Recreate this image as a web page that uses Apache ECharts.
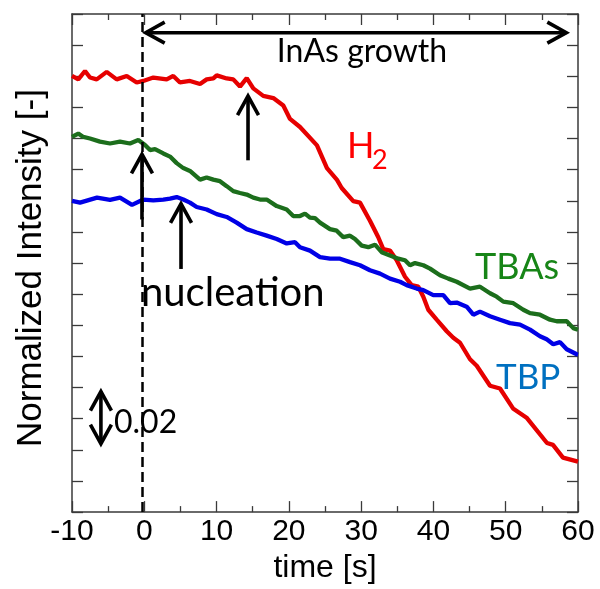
<!DOCTYPE html>
<html>
<head>
<meta charset="utf-8">
<script src="https://cdn.jsdelivr.net/npm/echarts@6/dist/echarts.min.js"></script>
<style>
html,body{margin:0;padding:0;background:#fff;}
#chart{width:600px;height:589px;}
</style>
</head>
<body>
<div id="chart"></div>
<script>
// ---- data (time [s], normalized intensity offset) ----
const h2 = [
  [-10.00,0.1401],[-9.13,0.1390],[-8.20,0.1417],[-7.51,0.1396],[-6.58,0.1390],[-5.20,0.1414],
  [-3.82,0.1390],[-2.43,0.1401],[-1.05,0.1380],[-0.14,0.1385],[1.25,0.1396],[3.10,0.1390],
  [4.01,0.1401],[4.94,0.1380],[6.32,0.1385],[7.71,0.1375],[8.63,0.1390],[9.55,0.1393],
  [10.02,0.1403],[11.40,0.1393],[12.31,0.1390],[13.24,0.1367],[14.17,0.1394],[15.08,0.1361],
  [16.46,0.1337],[17.85,0.1330],[19.23,0.1306],[20.16,0.1263],[21.54,0.1237],[23.89,0.1178],
  [25.27,0.1105],[26.66,0.1067],[27.31,0.1041],[28.91,0.0999],[29.84,0.0994],[31.22,0.0936],
  [32.37,0.0883],[33.06,0.0845],[33.99,0.0840],[34.92,0.0809],[36.07,0.0756],[36.99,0.0729],
  [37.91,0.0724],[38.60,0.0692],[39.29,0.0650],[40.45,0.0618],[41.84,0.0581],[42.75,0.0560],
  [43.68,0.0544],[45.06,0.0491],[45.99,0.0470],[47.83,0.0406],[49.21,0.0397],[51.01,0.0333],
  [52.94,0.0302],[55.71,0.0222],[56.54,0.0216],[57.92,0.0175],[60.00,0.0162]
];
const tbas = [
  [-10.00,0.1205],[-9.13,0.1216],[-8.44,0.1205],[-7.51,0.1200],[-6.13,0.1190],[-4.74,0.1184],
  [-3.36,0.1190],[-1.98,0.1184],[-0.83,0.1195],[0.10,0.1179],[0.79,0.1163],[1.48,0.1166],
  [2.63,0.1152],[3.56,0.1142],[4.48,0.1121],[5.40,0.1105],[6.32,0.1096],[7.71,0.1068],
  [8.63,0.1075],[9.55,0.1068],[10.47,0.1063],[11.40,0.1047],[12.31,0.1031],[13.24,0.1025],
  [14.17,0.1020],[15.08,0.1010],[16.01,0.1004],[16.93,0.1004],[18.32,0.0983],[19.70,0.0972],
  [20.61,0.0951],[21.54,0.0951],[22.23,0.0959],[22.92,0.0946],[23.62,0.0944],[24.31,0.0930],
  [25.69,0.0909],[26.62,0.0904],[27.53,0.0883],[28.46,0.0888],[29.15,0.0877],[30.08,0.0856],
  [30.99,0.0851],[31.92,0.0859],[32.84,0.0835],[33.99,0.0824],[35.14,0.0814],[36.07,0.0809],
  [36.76,0.0793],[37.45,0.0800],[38.60,0.0793],[39.53,0.0782],[40.91,0.0761],[42.06,0.0750],
  [43.22,0.0740],[45.06,0.0718],[46.44,0.0724],[47.83,0.0703],[48.75,0.0692],[49.67,0.0676],
  [51.05,0.0671],[52.43,0.0650],[53.36,0.0639],[54.74,0.0634],[56.13,0.0618],[57.05,0.0613],
  [58.44,0.0613],[59.35,0.0591],[60.00,0.0586]
];
const tbp = [
  [-10.00,0.1000],[-8.89,0.0994],[-6.54,0.1010],[-4.74,0.1003],[-3.36,0.1010],[-1.70,0.0987],
  [-0.14,0.1004],[1.25,0.1001],[2.63,0.1004],[3.56,0.1007],[4.48,0.1012],[5.40,0.1004],
  [6.32,0.0994],[7.25,0.0980],[8.63,0.0972],[10.02,0.0957],[11.40,0.0948],[12.78,0.0930],
  [14.17,0.0909],[15.55,0.0898],[16.93,0.0888],[18.32,0.0877],[19.70,0.0863],[20.85,0.0867],
  [21.54,0.0851],[22.92,0.0840],[24.31,0.0819],[25.69,0.0814],[27.08,0.0814],[28.46,0.0803],
  [29.84,0.0793],[31.22,0.0777],[32.61,0.0766],[33.99,0.0750],[35.38,0.0740],[36.30,0.0729],
  [37.68,0.0718],[38.60,0.0713],[39.98,0.0697],[41.37,0.0697],[42.29,0.0671],[43.22,0.0673],
  [44.60,0.0660],[45.52,0.0634],[46.44,0.0644],[47.83,0.0629],[49.21,0.0618],[50.59,0.0607],
  [51.98,0.0602],[53.36,0.0586],[54.74,0.0565],[55.67,0.0555],[56.58,0.0539],[57.51,0.0546],
  [58.44,0.0523],[59.82,0.0507],[60.00,0.0506]
];
const xTicks = [-10, 0, 10, 20, 30, 40, 50, 60];

// ---- annotation anchors (data units): [tail, tip] ----
const growthStart = -0.3;                      // dashed line: InAs growth start
const growthArrow = [[-0.22, 0.1540], [58.8, 0.1540]];
const nucleationArrows = [
  [[14.35, 0.1130], [14.35, 0.1346]],
  [[-0.32, 0.0940], [-0.32, 0.1159]],
  [[5.08, 0.0781], [5.08, 0.1000]]
];
const scaleArrow = [[-6.0, 0.0210], [-6.0, 0.0397]];

const axisColor = '#3a3a3a';
const axisFont = 'Liberation Sans, Arial, sans-serif';
const annFont = 'Lato, "Open Sans", sans-serif';

const chart = echarts.init(document.getElementById('chart'), null, {renderer: 'canvas'});

const commonX = {
  type: 'value', min: -10, max: 60, interval: 10,
  splitLine: {show: false},
  axisLine: {show: true, onZero: false, lineStyle: {color: axisColor, width: 1.5}},
  axisTick: {show: true, inside: true, length: 11, lineStyle: {color: axisColor, width: 1.3}},
  minorTick: {show: true, splitNumber: 2, length: 6, lineStyle: {color: axisColor, width: 1.3}},
  minorSplitLine: {show: false}
};
const commonY = {
  type: 'value', min: 0, max: 0.16, interval: 0.01,
  splitLine: {show: false},
  axisLine: {show: true, onZero: false, lineStyle: {color: axisColor, width: 1.5}},
  axisTick: {show: true, inside: true, length: 11, lineStyle: {color: axisColor, width: 1.3}},
  axisLabel: {show: false}
};

const texts = [
  {type: 'text', x: 362, y: 52, style: {text: 'InAs growth', fontFamily: annFont, fontSize: 32, fill: '#000', align: 'center', verticalAlign: 'middle'}, z: 10},
  {type: 'text', x: 347, y: 146, style: {text: 'H', fontFamily: annFont, fontSize: 36, fill: '#ff0000', align: 'left', verticalAlign: 'middle'}, z: 10},
  {type: 'text', x: 372, y: 160, style: {text: '2', fontFamily: annFont, fontSize: 27, fill: '#ff0000', align: 'left', verticalAlign: 'middle'}, z: 10},
  {type: 'text', x: 475, y: 267, style: {text: 'TBAs', fontFamily: annFont, fontSize: 36, fill: '#178517', align: 'left', verticalAlign: 'middle'}, z: 10},
  {type: 'text', x: 496, y: 378, style: {text: 'TBP', fontFamily: annFont, fontSize: 35, fill: '#0070c0', align: 'left', verticalAlign: 'middle'}, z: 10},
  {type: 'text', x: 141, y: 293, style: {text: 'nucleation', fontFamily: annFont, fontSize: 40, fill: '#000', align: 'left', verticalAlign: 'middle'}, z: 10},
  {type: 'text', x: 114, y: 423, style: {text: '0.02', fontFamily: annFont, fontSize: 32, fill: '#000', align: 'left', verticalAlign: 'middle'}, z: 10}
];

const option = {
  animation: false,
  backgroundColor: '#fff',
  grid: {left: 72, right: 22, top: 14, bottom: 71, containLabel: false},
  xAxis: [
    Object.assign({}, commonX, {
      position: 'bottom',
      name: 'time [s]', nameLocation: 'middle', nameGap: 38,
      nameTextStyle: {fontFamily: axisFont, fontSize: 32, color: '#000'},
      axisLabel: {show: true, fontFamily: axisFont, fontSize: 30, color: '#000', margin: 5,
        formatter: v => xTicks.indexOf(v) >= 0 ? String(v) : ''}
    }),
    Object.assign({}, commonX, {position: 'top', axisLabel: {show: false}})
  ],
  yAxis: [
    Object.assign({}, commonY, {
      position: 'left',
      name: 'Normalized Intensity [-]', nameLocation: 'middle', nameGap: 23,
      nameTextStyle: {fontFamily: axisFont, fontSize: 35, color: '#000', padding: [0, 10, 0, 0]}
    }),
    Object.assign({}, commonY, {position: 'right'})
  ],
  series: [
    {
      name: 'H2', type: 'line', data: h2, showSymbol: false, symbol: 'none',
      lineStyle: {color: '#e60000', width: 4.3}, z: 3,
      markLine: {
        silent: true, animation: false, symbol: ['none', 'none'],
        label: {show: false},
        lineStyle: {color: '#000', width: 2.5, type: [10, 5]},
        data: [{xAxis: growthStart}]
      }
    },
    {
      name: 'TBAs', type: 'line', data: tbas, showSymbol: false, symbol: 'none',
      lineStyle: {color: '#1c6e1c', width: 4.3}, z: 4
    },
    {
      name: 'TBP', type: 'line', data: tbp, showSymbol: false, symbol: 'none',
      lineStyle: {color: '#0000e6', width: 4.3}, z: 5
    }
  ],
  graphic: texts
};
chart.setOption(option);

// ---- arrows: anchored in data units, converted through the chart's scales ----
const LW = 3.6;
function toPx(p) { return chart.convertToPixel({xAxisIndex: 0, yAxisIndex: 0}, p); }
function head(from, to) {
  const dx = to[0] - from[0], dy = to[1] - from[1];
  const L = Math.hypot(dx, dy), ux = dx / L, uy = dy / L;
  const ax = to[0] - ux * 3, ay = to[1] - uy * 3;
  const bx = ax - ux * 19, by = ay - uy * 19;
  const nx = -uy, ny = ux;
  return {type: 'polyline', z: 11, silent: true,
    shape: {points: [[bx + nx * 10.5, by + ny * 10.5], [ax, ay], [bx - nx * 10.5, by - ny * 10.5]]},
    style: {stroke: '#000', lineWidth: LW, fill: null, lineJoin: 'miter', lineCap: 'butt'}};
}
function arrow(pair, both) {
  const a = toPx(pair[0]), b = toPx(pair[1]);
  const dx = b[0] - a[0], dy = b[1] - a[1];
  const L = Math.hypot(dx, dy), ux = dx / L, uy = dy / L;
  const b2 = [b[0] - ux * 3, b[1] - uy * 3];
  const a2 = both ? [a[0] + ux * 3, a[1] + uy * 3] : a;
  const els = [{type: 'polyline', z: 11, silent: true, shape: {points: [a2, b2]},
    style: {stroke: '#000', lineWidth: LW, fill: null, lineCap: 'butt'}}];
  els.push(head(a, b));
  if (both) els.push(head(b, a));
  return els;
}
let arrows = [];
arrows = arrows.concat(arrow(growthArrow, true), arrow(scaleArrow, true));
nucleationArrows.forEach(p => { arrows = arrows.concat(arrow(p, false)); });
chart.setOption({graphic: texts.concat(arrows)});
</script>
</body>
</html>
